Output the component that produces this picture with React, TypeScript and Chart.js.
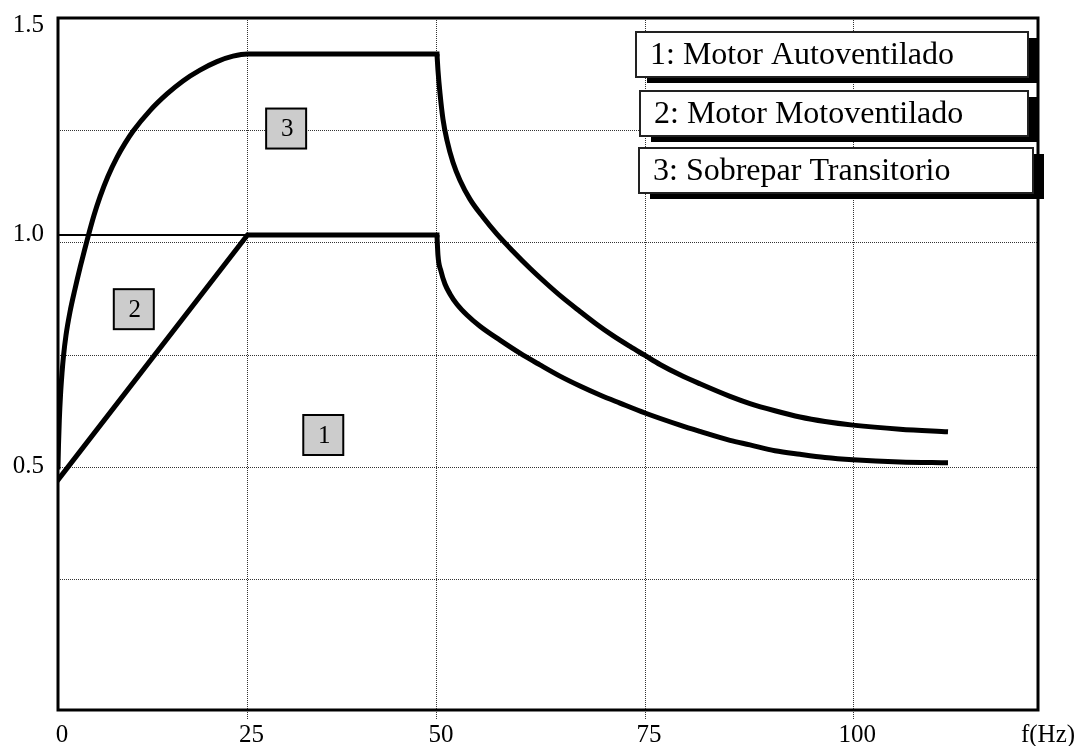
import React, { useEffect, useRef } from 'react';
import { Chart, registerables, LinearScale } from 'chart.js';

Chart.register(...registerables);

// ---------- data ----------
const xTicks = [0, 25, 50, 75, 100];
const xTickLabels = ['0', '25', '50', '75', '100'];
const xUnitLabel = 'f(Hz)';
const xMax = 122.2;

const yGridValues = [0.25, 0.5, 0.75, 1.0, 1.25];
const yTickValues = [0.502, 1.019, 1.483];
const yTickLabels = ['0.5', '1.0', '1.5'];
const yMin = -0.04;
const yMax = 1.5;

// reference line at 1.0 from 0 to 25 Hz
const refLineX = [0, 25];
const refLineY = [1.017, 1.017];

// curve 1 (ramp + flat)
const curve1RampX = [0, 25, 50];
const curve1RampY = [0.472, 1.017, 1.017];
// curve 1 (field weakening)
const curve1TailX = [50, 50.12, 50.48, 50.96, 51.56, 52.4, 53.6, 55.17, 57.57, 59.97, 62.37, 64.77, 67.18, 69.58, 71.98, 74.99, 79.19, 81.59, 85.2, 87.6, 90.6, 93.61, 96.61, 99.97, 105.62, 111.39];
const curve1TailY = [1.017, 0.972, 0.937, 0.908, 0.886, 0.863, 0.839, 0.814, 0.783, 0.754, 0.728, 0.703, 0.681, 0.661, 0.643, 0.621, 0.594, 0.58, 0.56, 0.55, 0.537, 0.529, 0.522, 0.517, 0.512, 0.51];

// curve 3 (rise + flat)
const curve3RiseX = [0, 0.066, 0.172, 0.33, 0.528, 0.726, 1.055, 1.583, 2.243, 2.902, 3.298, 3.958, 4.749, 5.541, 6.596, 7.784, 8.839, 9.894, 12.137, 14.38, 16.491, 18.734, 20.976, 23.087, 25, 50];
const curve3RiseY = [0.501, 0.55, 0.605, 0.661, 0.71, 0.748, 0.794, 0.846, 0.897, 0.944, 0.97, 1.013, 1.061, 1.102, 1.148, 1.19, 1.221, 1.248, 1.294, 1.331, 1.36, 1.384, 1.403, 1.415, 1.42, 1.42];
// curve 3 (drop)
const curve3TailX = [50, 50.12, 50.36, 50.72, 51.2, 51.92, 52.76, 53.96, 55.52, 57.21, 59.13, 61.17, 63.21, 65.13, 67.18, 69.22, 71.14, 73.19, 74.99, 76.79, 79.19, 81.59, 85.2, 87.6, 90.6, 93.61, 96.61, 99.97, 105.62, 111.39];
const curve3TailY = [1.42, 1.384, 1.333, 1.275, 1.228, 1.179, 1.139, 1.097, 1.057, 1.019, 0.981, 0.943, 0.908, 0.877, 0.847, 0.818, 0.793, 0.769, 0.749, 0.729, 0.706, 0.686, 0.658, 0.642, 0.626, 0.612, 0.602, 0.594, 0.585, 0.579];

const legendLabels = ['1: Motor Autoventilado', '2: Motor Motoventilado', '3: Sobrepar Transitorio'];
const markerLabels = ['1', '2', '3'];
const markerX = [35.0, 10.0, 30.1];
const markerY = [0.572, 0.852, 1.254];

// ---------- styles ----------
const FONT = "'Liberation Serif', 'Times New Roman', 'DejaVu Serif', serif";
const X_BREAK = 50;
const X_LEFT_SHARE = 0.3867;
const TICK_FONT_SIZE = 25;
const X_TICK_LEN = 10;
const X_TICK_PAD = 0;

class BrokenLinearScale extends LinearScale {
  static id = 'brokenLinear';
  static defaults = { ...(LinearScale as any).defaults };
  _toDec(v: number) {
    const s: any = this;
    const min = s.min;
    const max = s.max;
    if (v <= X_BREAK) return ((v - min) / (X_BREAK - min)) * X_LEFT_SHARE;
    return X_LEFT_SHARE + ((v - X_BREAK) / (max - X_BREAK)) * (1 - X_LEFT_SHARE);
  }
  getPixelForValue(value: number) {
    return (this as any).getPixelForDecimal(this._toDec(value));
  }
  getValueForPixel(pixel: number) {
    const s: any = this;
    const d = s.getDecimalForPixel(pixel);
    if (d <= X_LEFT_SHARE) return s.min + (d / X_LEFT_SHARE) * (X_BREAK - s.min);
    return X_BREAK + ((d - X_LEFT_SHARE) / (1 - X_LEFT_SHARE)) * (s.max - X_BREAK);
  }
}
Chart.register(BrokenLinearScale as any);

const toPoints = (xs: number[], ys: number[]) => xs.map((x, i) => ({ x, y: ys[i] }));

const decorPlugin = {
  id: 'decor',
  beforeDatasetsDraw(chart: any) {
    const { ctx, chartArea } = chart;
    ctx.save();
    ctx.strokeStyle = '#000';
    ctx.lineWidth = 3;
    ctx.strokeRect(chartArea.left, chartArea.top, chartArea.right - chartArea.left, chartArea.bottom - chartArea.top);
    ctx.restore();
  },
  afterDatasetsDraw(chart: any) {
    const { ctx, chartArea, scales } = chart;
    ctx.save();
    // number markers
    markerLabels.forEach((lab, i) => {
      const cx = scales.x.getPixelForValue(markerX[i]);
      const cy = scales.y.getPixelForValue(markerY[i]);
      const s = 40;
      ctx.fillStyle = '#cccccc';
      ctx.fillRect(cx - s / 2, cy - s / 2, s, s);
      ctx.strokeStyle = '#000';
      ctx.lineWidth = 2;
      ctx.strokeRect(cx - s / 2, cy - s / 2, s, s);
      ctx.fillStyle = '#000';
      ctx.font = `25px ${FONT}`;
      ctx.textAlign = 'center';
      ctx.textBaseline = 'middle';
      ctx.fillText(lab, cx + 1, cy + 1);
    });
    // legend boxes
    const boxDX = [0, 4, 3];
    const boxW = [392, 388, 394];
    const boxTop = [14, 73, 130];
    const boxH = 45;
    legendLabels.forEach((lab, i) => {
      const left = chartArea.right - 402 + boxDX[i];
      const top = chartArea.top + boxTop[i];
      ctx.fillStyle = '#000';
      ctx.fillRect(left + 11, top + 6, boxW[i], boxH);
      ctx.fillStyle = '#fff';
      ctx.fillRect(left, top, boxW[i], boxH);
      ctx.strokeStyle = '#222';
      ctx.lineWidth = 2;
      ctx.strokeRect(left, top, boxW[i], boxH);
      ctx.fillStyle = '#000';
      ctx.font = `32px ${FONT}`;
      ctx.textAlign = 'left';
      ctx.textBaseline = 'middle';
      ctx.fillText(lab, left + 14, top + boxH / 2 + 1);
    });
    // unit label
    ctx.font = `${TICK_FONT_SIZE}px ${FONT}`;
    ctx.fillStyle = '#000';
    ctx.textAlign = 'center';
    ctx.textBaseline = 'middle';
    ctx.fillText(xUnitLabel, chartArea.right + 10, chartArea.bottom + X_TICK_LEN + X_TICK_PAD + TICK_FONT_SIZE * 0.6);
    ctx.restore();
  },
};

export default function App() {
  const ref = useRef<HTMLCanvasElement>(null);
  useEffect(() => {
    if (!ref.current) return;
    const thick = {
      borderColor: '#000',
      borderWidth: 5,
      pointRadius: 0,
      fill: false,
      xAxisID: 'x',
      yAxisID: 'y',
    };
    const chart = new Chart(ref.current, {
      type: 'line',
      data: {
        datasets: [
          { ...thick, label: 'ref', data: toPoints(refLineX, refLineY), borderWidth: 2, tension: 0 },
          { ...thick, label: '1a', data: toPoints(curve1RampX, curve1RampY), tension: 0, borderCapStyle: 'square', borderJoinStyle: 'miter' },
          { ...thick, label: '1b', data: toPoints(curve1TailX, curve1TailY), cubicInterpolationMode: 'monotone' },
          { ...thick, label: '3a', data: toPoints(curve3RiseX, curve3RiseY), cubicInterpolationMode: 'monotone', borderCapStyle: 'square' },
          { ...thick, label: '3b', data: toPoints(curve3TailX, curve3TailY), cubicInterpolationMode: 'monotone' },
        ] as any,
      },
      options: {
        animation: false,
        responsive: false,
        events: [],
        layout: { padding: { left: 0, top: 18, right: 42, bottom: 0 } },
        plugins: { legend: { display: false }, tooltip: { enabled: false }, title: { display: false } },
        scales: {
          x: {
            type: 'brokenLinear' as any,
            min: 0,
            max: xMax,
            position: 'bottom',
            afterBuildTicks: (s: any) => {
              s.ticks = xTicks.map((v) => ({ value: v }));
            },
            afterFit: (s: any) => {
              s.height = 36;
              s.paddingLeft = 0;
              s.paddingRight = 0;
            },
            grid: {
              color: (c: any) => (c.tick && c.tick.value === 0 ? 'rgba(0,0,0,0)' : '#333'),
              lineWidth: 1,
              drawTicks: true,
              tickLength: X_TICK_LEN,
              tickBorderDash: [1, 1],
            },
            border: { display: false, dash: [1, 1] },
            ticks: {
              autoSkip: false,
              maxRotation: 0,
              padding: X_TICK_PAD,
              labelOffset: 4,
              color: '#000',
              font: { family: FONT, size: TICK_FONT_SIZE },
              callback: (_v: any, i: number) => xTickLabels[i],
            },
          } as any,
          y: {
            type: 'linear',
            min: yMin,
            max: yMax,
            position: 'left',
            afterBuildTicks: (s: any) => {
              s.ticks = yGridValues.map((v) => ({ value: v }));
            },
            afterFit: (s: any) => {
              s.width = 0;
              s.paddingTop = 0;
              s.paddingBottom = 0;
            },
            grid: { color: '#333', lineWidth: 1, drawTicks: false },
            border: { display: false, dash: [1, 1] },
            ticks: { display: false },
          } as any,
          yl: {
            type: 'linear',
            axis: 'y',
            min: yMin,
            max: yMax,
            position: 'left',
            afterBuildTicks: (s: any) => {
              s.ticks = yTickValues.map((v) => ({ value: v }));
            },
            afterFit: (s: any) => {
              s.width = 58;
              s.paddingTop = 0;
              s.paddingBottom = 0;
            },
            grid: { display: false, drawTicks: false },
            border: { display: false },
            ticks: {
              padding: 14,
              color: '#000',
              font: { family: FONT, size: TICK_FONT_SIZE },
              callback: (_v: any, i: number) => yTickLabels[i],
            },
          } as any,
        },
      },
      plugins: [decorPlugin],
    });
    return () => chart.destroy();
  }, []);
  return (
    <div style={{ position: 'fixed', left: 0, top: 0, width: 1080, height: 746, background: '#fff' }}>
      <canvas ref={ref} width={1080} height={746} style={{ display: 'block' }} />
    </div>
  );
}
